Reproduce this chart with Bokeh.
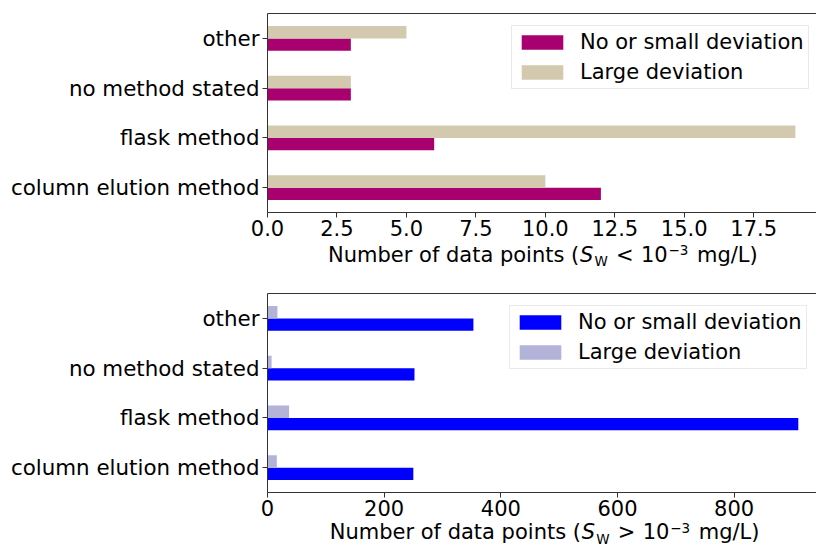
import numpy as np
from bokeh.plotting import figure
from bokeh.models import (Range1d, FixedTicker, LinearAxis, Legend, LegendItem,
                          NumeralTickFormatter, ColumnDataSource, Div)
from bokeh.layouts import column
from bokeh.embed import file_html
from bokeh.resources import INLINE

# ---------------- data ----------------
categories = ["column elution method", "flask method", "no method stated", "other"]
series_names = ["No or small deviation", "Large deviation"]

low_small = [12, 6, 3, 3]          # S_W < 1e-3 mg/L, no or small deviation
low_large = [10, 19, 3, 5]         # S_W < 1e-3 mg/L, large deviation
high_small = [250, 910, 252, 353]  # S_W > 1e-3 mg/L, no or small deviation
high_large = [16, 37, 7, 17]       # S_W > 1e-3 mg/L, large deviation

low_xticks = [0, 2.5, 5, 7.5, 10, 12.5, 15, 17.5]
high_xticks = [0, 200, 400, 600, 800]

# ---------------- style ----------------
W = 816
FONT = "DejaVu Sans"
FS = "21px"
AXIS_COLOR = "#333333"
BAR_H = 0.25


def make_panel(small, large, c_small, c_large, xticks, xend, fmt, height,
               b_left, b_top, b_bottom, legend_xy):
    pos = np.arange(len(categories))
    p = figure(width=W, height=height, output_backend="svg", toolbar_location=None,
               x_range=Range1d(0, xend), y_range=Range1d(-0.5, len(categories) - 0.5),
               x_axis_type=None, y_axis_type=None,
               min_border_left=b_left, min_border_right=0,
               min_border_top=b_top, min_border_bottom=b_bottom)
    p.outline_line_color = None
    p.background_fill_color = "white"
    p.border_fill_color = "white"

    src_s = ColumnDataSource(dict(y=pos - BAR_H / 2, right=small))
    src_l = ColumnDataSource(dict(y=pos + BAR_H / 2, right=large))
    r_s = p.hbar(y="y", right="right", left=0, height=BAR_H, source=src_s,
                 fill_color=c_small, line_color=None)
    r_l = p.hbar(y="y", right="right", left=0, height=BAR_H, source=src_l,
                 fill_color=c_large, line_color=None)

    xaxis = LinearAxis(ticker=FixedTicker(ticks=xticks),
                       formatter=NumeralTickFormatter(format=fmt))
    yaxis = LinearAxis(ticker=FixedTicker(ticks=list(pos)),
                       major_label_overrides={int(i): c for i, c in zip(pos, categories)})
    top_axis = LinearAxis(ticker=FixedTicker(ticks=[]))
    for ax in (xaxis, yaxis, top_axis):
        ax.axis_line_color = AXIS_COLOR
        ax.axis_line_width = 1
        ax.major_tick_line_color = AXIS_COLOR
        ax.major_tick_in = 0
        ax.major_tick_out = 5
        ax.minor_tick_line_color = None
        ax.major_label_text_font = FONT
        ax.major_label_text_font_size = FS
        ax.major_label_text_color = "black"
    xaxis.major_label_standoff = 2
    yaxis.major_label_standoff = 3
    yaxis.major_label_text_font_size = "21.4px"
    top_axis.major_tick_line_color = None
    top_axis.major_label_text_font_size = "0px"
    p.add_layout(xaxis, "below")
    p.add_layout(yaxis, "left")
    p.add_layout(top_axis, "above")

    legend = Legend(items=[LegendItem(label=series_names[0], renderers=[r_s]),
                           LegendItem(label=series_names[1], renderers=[r_l])],
                    location=legend_xy)
    legend.label_text_font = FONT
    legend.label_text_font_size = FS
    legend.label_text_color = "black"
    legend.glyph_width = 52
    legend.glyph_height = 18
    legend.label_height = 24
    legend.label_standoff = 12
    legend.spacing = 6
    legend.padding = 4
    legend.margin = 0
    legend.border_line_color = "#d6d6d6"
    legend.border_line_width = 1
    legend.background_fill_color = "white"
    legend.background_fill_alpha = 0.85
    p.add_layout(legend)
    return p


def make_xlabel(height, baseline, dx, sign, overlap):
    """Strip with the x-axis title 'Number of data points (S_W < 10^-3 mg/L)'."""
    pieces = [
        ("Number of data points (", 328, 0, 21, "normal"),
        ("S", 580, 0, 21, "italic"),
        ("W", 594.5, 4.4, 13.5, "normal"),
        (sign, 616, 0, 21, "normal"),
        ("10", 641, 0, 21, "normal"),
        ("&#8722;3", 668.5, -6.6, 13.5, "normal"),
        ("mg/L)", 697, 0, 21, "normal"),
    ]
    spans = []
    for txt, x, dy, size, style in pieces:
        top = baseline + dy - 0.846 * size
        spans.append(
            f'<span style="position:absolute;left:{x + dx:.1f}px;top:{top:.1f}px;'
            f'font-size:{size}px;font-style:{style};line-height:1;white-space:nowrap;">'
            f'{txt}</span>')
    html = (f'<div style="position:relative;width:{W}px;height:{height}px;'
            f'font-family:\'DejaVu Sans\';color:black;">'
            + "".join(spans) + '</div>')
    return Div(text=html, width=W, height=height, margin=(-overlap, 0, 0, 0))


top = make_panel(low_small, low_large, "#A8006E", "#D2C9AE", low_xticks, 19.76, "0.0",
                 height=246, b_left=265, b_top=13, b_bottom=34, legend_xy=(244, 123))
top_label = make_xlabel(40, 22.3, 0, "&lt;", 6)
bottom = make_panel(high_small, high_large, "#0000FF", "#B3B3D9", high_xticks, 941.2, "0",
                    height=245, b_left=267, b_top=13, b_bottom=33, legend_xy=(242, 123.3))
bottom_label = make_xlabel(29, 20.5, 1.7, "&gt;", 6)

layout = column(top, top_label, bottom, bottom_label, spacing=0)
open("out.html", "w").write(file_html(layout, INLINE))
